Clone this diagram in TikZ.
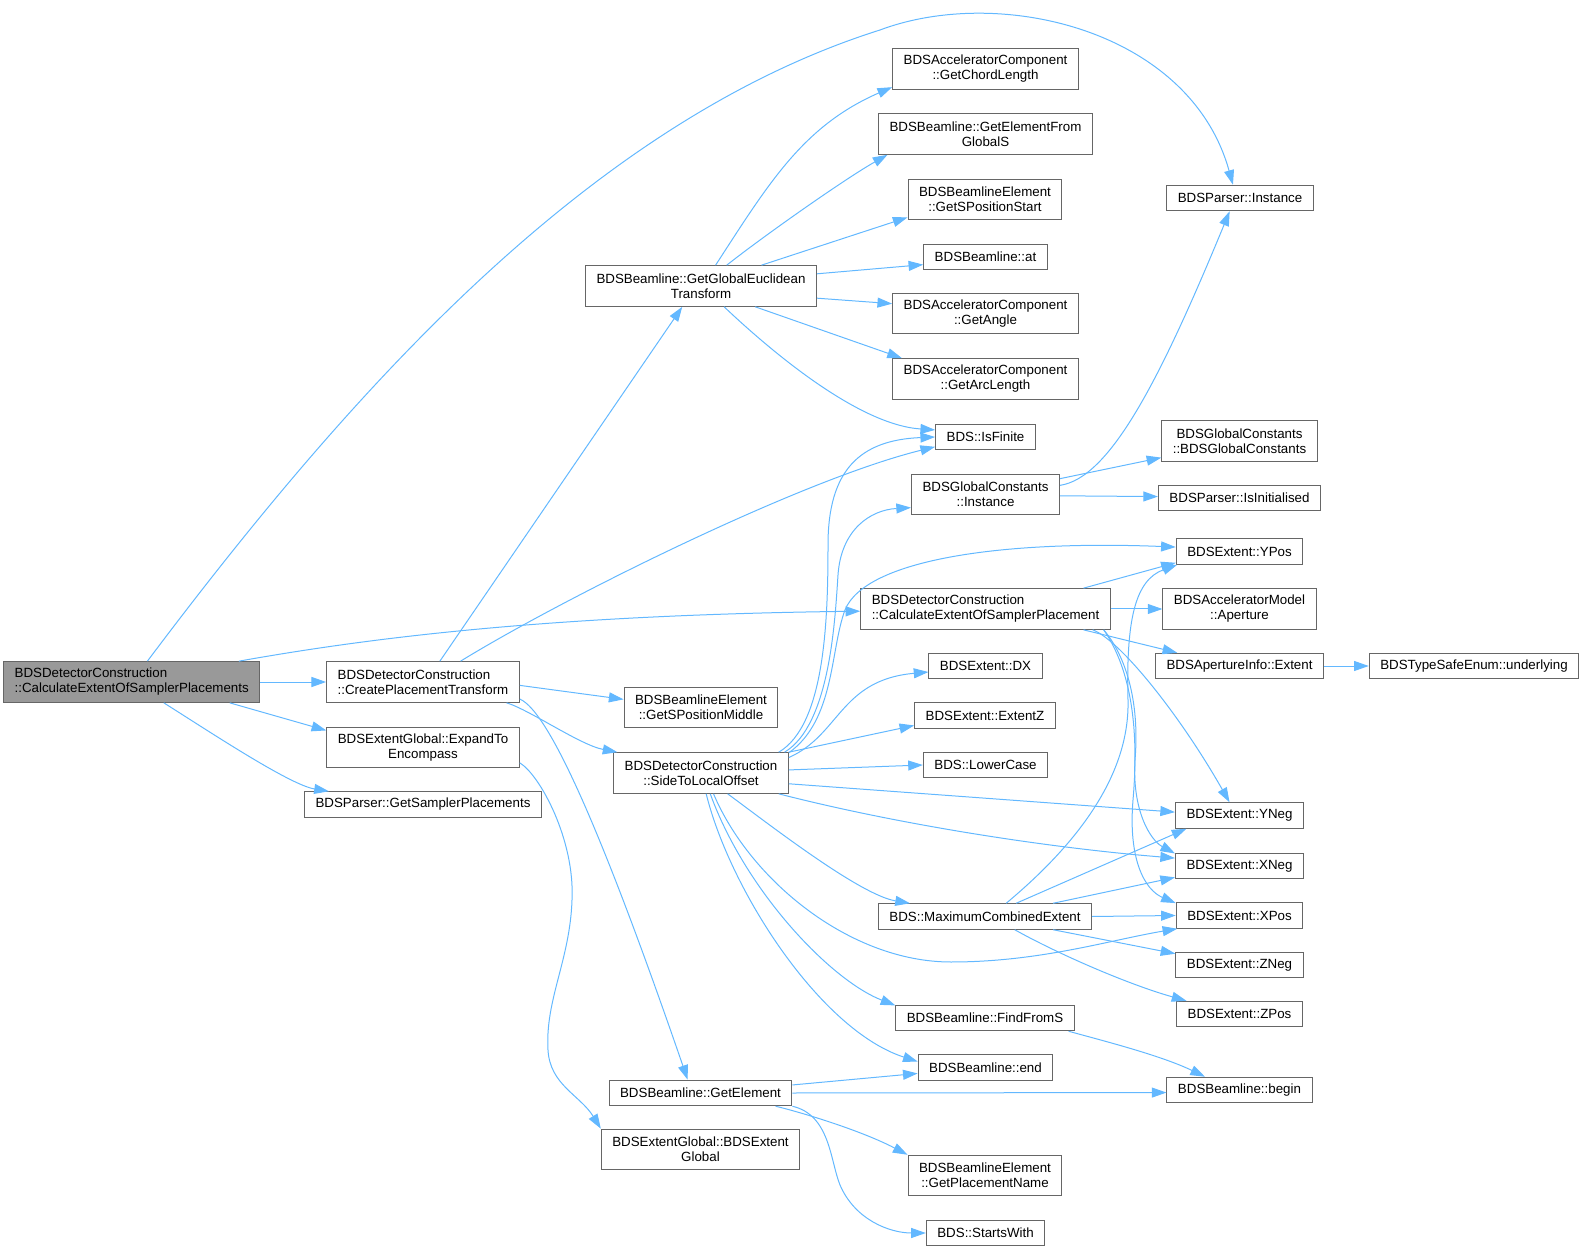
\documentclass[tikz,border=0pt]{standalone}
\usepackage{fontspec}
\setmainfont{Liberation Sans}
\usetikzlibrary{arrows.meta}

\definecolor{edgeblue}{HTML}{63B8FF}
\definecolor{boxgray}{HTML}{666666}
\definecolor{rootgray}{HTML}{999999}

\begin{document}
\begin{tikzpicture}[x=0.75pt,y=-0.75pt,
    fn/.style={draw=boxgray, line width=0.75pt, fill=white, inner xsep=8.25pt, inner ysep=2pt,
      minimum height=19.1pt, align=center, font=\fontsize{10}{11.25}\selectfont},
    fntwo/.style={fn, minimum height=30.5pt},
    call/.style={draw=edgeblue, line width=0.75pt, -{Triangle[length=11pt,width=7.5pt]}}]
		% Set diagram size (1582 x 1251)
		\useasboundingbox (0,0) rectangle (1582,1251);

		% The function whose calls are shown
		\node[fntwo, fill=rootgray, align=left] (main) at (131.7,682) {BDSDetectorConstruction\\::CalculateExtentOfSamplerPlacements};

		% Second column
		\node[fntwo, align=left] (cpt) at (423,682) {BDSDetectorConstruction\\::CreatePlacementTransform};
		\node[fntwo] (etoe) at (423,747.5) {BDSExtentGlobal::ExpandTo\\Encompass};
		\node[fn] (gsp) at (423,804.5) {BDSParser::GetSamplerPlacements};

		% Third column
		\node[fntwo] (ggt) at (701,286) {BDSBeamline::GetGlobalEuclidean\\Transform};
		\node[fntwo] (gspm) at (701,707.5) {BDSBeamlineElement\\::GetSPositionMiddle};
		\node[fntwo] (stlo) at (701,773) {BDSDetectorConstruction\\::SideToLocalOffset};
		\node[fn] (ge) at (700.5,1093) {BDSBeamline::GetElement};
		\node[fntwo] (egc) at (700.5,1149.5) {BDSExtentGlobal::BDSExtent\\Global};

		% Fourth column
		\node[fntwo] (gcl) at (985.5,69) {BDSAcceleratorComponent\\::GetChordLength};
		\node[fntwo] (gef) at (985.5,134) {BDSBeamline::GetElementFrom\\GlobalS};
		\node[fntwo] (gsps) at (985,199.5) {BDSBeamlineElement\\::GetSPositionStart};
		\node[fn] (bat) at (985.5,257) {BDSBeamline::at};
		\node[fntwo] (gan) at (985.5,313.5) {BDSAcceleratorComponent\\::GetAngle};
		\node[fntwo] (gal) at (985.5,379) {BDSAcceleratorComponent\\::GetArcLength};
		\node[fn] (isf) at (985.5,437) {BDS::IsFinite};
		\node[fntwo] (gci) at (985.5,494.5) {BDSGlobalConstants\\::Instance};
		\node[fntwo, align=left] (cesp) at (985.5,609) {BDSDetectorConstruction\\::CalculateExtentOfSamplerPlacement};
		\node[fn] (dx) at (985.5,666) {BDSExtent::DX};
		\node[fn] (exz) at (985,715.5) {BDSExtent::ExtentZ};
		\node[fn] (lc) at (985.5,765) {BDS::LowerCase};
		\node[fn] (mce) at (985,916.5) {BDS::MaximumCombinedExtent};
		\node[fn] (ffs) at (985,1018) {BDSBeamline::FindFromS};
		\node[fn] (bend) at (985.5,1067.5) {BDSBeamline::end};
		\node[fntwo] (gpn) at (985,1175.5) {BDSBeamlineElement\\::GetPlacementName};
		\node[fn] (sw) at (985.5,1233) {BDS::StartsWith};

		% Fifth column
		\node[fn] (pin) at (1240,198) {BDSParser::Instance};
		\node[fntwo] (gcc) at (1239.5,441) {BDSGlobalConstants\\::BDSGlobalConstants};
		\node[fn] (pii) at (1239.5,498) {BDSParser::IsInitialised};
		\node[fn] (ypos) at (1239.5,551.5) {BDSExtent::YPos};
		\node[fntwo] (amap) at (1239.5,609) {BDSAcceleratorModel\\::Aperture};
		\node[fn] (aie) at (1239.5,666) {BDSApertureInfo::Extent};
		\node[fn] (yneg) at (1239.5,815.5) {BDSExtent::YNeg};
		\node[fn] (xneg) at (1239.5,866) {BDSExtent::XNeg};
		\node[fn] (xpos) at (1239.5,915.5) {BDSExtent::XPos};
		\node[fn] (zneg) at (1239.5,965) {BDSExtent::ZNeg};
		\node[fn] (zpos) at (1239.5,1014) {BDSExtent::ZPos};
		\node[fn] (bbegin) at (1239.5,1090) {BDSBeamline::begin};

		% Last column
		\node[fn] (tse) at (1474,666) {BDSTypeSafeEnum::underlying};

		% Calls from the root function
		\draw[call] (main.53) .. controls (357,382) and (595,120) .. (880,30) .. controls (1000,-15) and (1190,30) .. (pin.118);
		\draw[call] (main.11) .. controls (380,636) and (560,615) .. (cesp.181);
		\draw[call] (main.east) -- (cpt.west);
		\draw[call] (main.-12) -- (etoe.170);
		\draw[call] (main.-33) .. controls (210,732) and (290,785) .. (gsp.172);

		% Calls from CreatePlacementTransform
		\draw[call] (cpt.51) -- (ggt.228);
		\draw[call] (cpt.29) .. controls (560,600) and (800,480) .. (isf.191);
		\draw[call] (cpt.-2) -- (gspm.174);
		\draw[call] (cpt.-14) .. controls (530,710) and (580,745) .. (stlo.166);
		\draw[call] (cpt.-10) .. controls (550,712) and (605,840) .. (ge.134);

		% Call from ExpandToEncompass
		\draw[call] (etoe.-9) .. controls (540,775) and (575,840) .. (572,900) .. controls (570,960) and (545,1000) .. (548,1050) .. controls (550,1085) and (580,1095) .. (egc.north west);

		% Calls from GetGlobalEuclideanTransform
		\draw[call] (ggt.55) .. controls (769,183) and (803,126) .. (gcl.191);
		\draw[call] (ggt.39) .. controls (769,232) and (848,177) .. (gef.192);
		\draw[call] (ggt.19) -- (gsps.193);
		\draw[call] (ggt.6) -- (bat.187);
		\draw[call] (ggt.-6) -- (gan.174);
		\draw[call] (ggt.-21) -- (gal.166);
		\draw[call] (ggt.-42) .. controls (775,355) and (860,425) .. (isf.172);

		% Calls from SideToLocalOffset
		\draw[call] (stlo.15) .. controls (825,725) and (828,620) .. (828,545) .. controls (828,470) and (860,440) .. (isf.west);
		\draw[call] (stlo.14) .. controls (830,725) and (835,620) .. (838,575) .. controls (841,530) and (870,510) .. (gci.190);
		\draw[call] (stlo.13) .. controls (835,720) and (830,650) .. (845,610) .. controls (865,560) and (1000,540) .. (ypos.176);
		\draw[call] (stlo.10) .. controls (840,735) and (840,680) .. (dx.186);
		\draw[call] (stlo.north east) -- (exz.188);
		\draw[call] (stlo.2) -- (lc.west);
		\draw[call] (stlo.-7) -- (yneg.177);
		\draw[call] (stlo.-15) .. controls (900,825) and (1050,848) .. (xneg.173);
		\draw[call] (stlo.-38) .. controls (770,825) and (860,895) .. (mce.170);
		\draw[call] (stlo.-59) .. controls (750,880) and (850,962) .. (951,962) .. controls (1040,962) and (1110,940) .. (xpos.192);
		\draw[call] (stlo.-66) .. controls (745,890) and (830,980) .. (ffs.172);
		\draw[call] (stlo.-76) .. controls (730,890) and (820,1030) .. (bend.175);

		% Calls from BDSGlobalConstants::Instance
		\draw[call] (gci.7) .. controls (1110,478) and (1160,380) .. (pin.232);
		\draw[call] (gci.12) -- (gcc.192);
		\draw[call] (gci.-1) -- (pii.179);

		% Calls from CalculateExtentOfSamplerPlacement
		\draw[call] (cesp.12) -- (ypos.190);
		\draw[call] (cesp.east) -- (amap.west);
		\draw[call] (cesp.-12) -- (aie.168);
		\draw[call] (cesp.-11) .. controls (1120,640) and (1180,715) .. (yneg.127);
		\draw[call] (cesp.-10.5) .. controls (1125,655) and (1140,700) .. (1135,760) .. controls (1132,810) and (1150,840) .. (xneg.169);
		\draw[call] (cesp.-10.2) .. controls (1128,665) and (1140,720) .. (1133,800) .. controls (1128,860) and (1145,890) .. (xpos.169);
		\draw[call] (aie.east) -- (tse.west);

		% Calls from MaximumCombinedExtent
		\draw[call] (mce.32) .. controls (1070,850) and (1130,780) .. (1128,700) .. controls (1126,620) and (1135,580) .. (ypos.192);
		\draw[call] (mce.23) -- (yneg.194);
		\draw[call] (mce.11) -- (xneg.190);
		\draw[call] (mce.east) -- (xpos.west);
		\draw[call] (mce.-11) -- (zneg.170);
		\draw[call] (mce.-24) .. controls (1060,955) and (1130,985) .. (zpos.166);

		% Calls from FindFromS and GetElement
		\draw[call] (ffs.-9) .. controls (1100,1040) and (1160,1055) .. (bbegin.159);
		\draw[call] (ge.5.5) -- (bend.185);
		\draw[call] (ge.east) -- (bbegin.182);
		\draw[call] (ge.-10.6) .. controls (800,1112) and (860,1130) .. (gpn.165);
		\draw[call] (ge.south east) .. controls (830,1115) and (830,1160) .. (840,1185) .. controls (855,1220) and (890,1233) .. (sw.west);
	\end{tikzpicture}
\end{document}
